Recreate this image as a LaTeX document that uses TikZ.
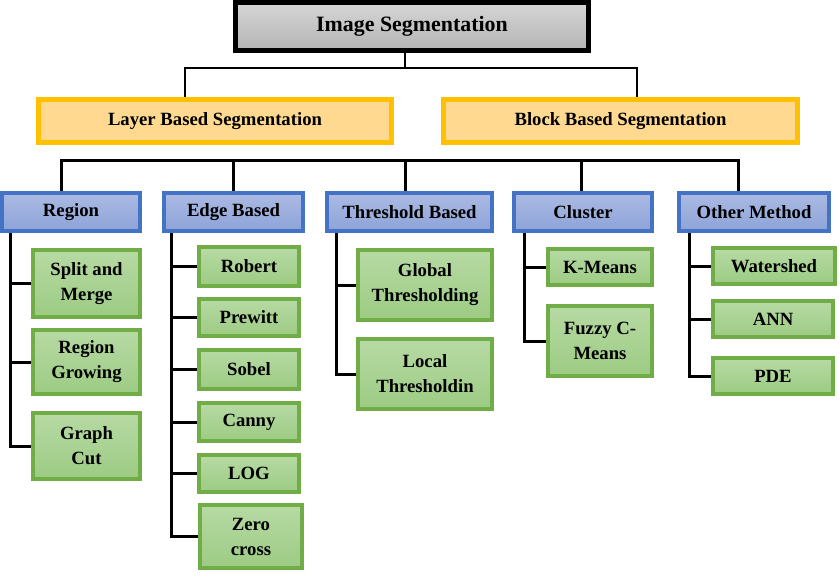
\documentclass[tikz,border=0pt]{standalone}
\usepackage{fontspec}
\setmainfont{Liberation Serif}
\usepackage{tikz}
\usetikzlibrary{positioning}
\pgfdeclarelayer{background}
\pgfsetlayers{background,main}

\definecolor{rootTop}{HTML}{D6D6D6}
\definecolor{rootBot}{HTML}{B4B4B4}
\definecolor{layerLine}{HTML}{FFC000}
\definecolor{layerFill}{HTML}{FFD98F}
\definecolor{blueLine}{HTML}{4472C4}
\definecolor{blueTop}{HTML}{ABBAE3}
\definecolor{blueBot}{HTML}{8DA3D8}
\definecolor{greenLine}{HTML}{70AD47}
\definecolor{greenTop}{HTML}{B7DAA4}
\definecolor{greenBot}{HTML}{9CCB83}

\begin{document}
\begin{tikzpicture}[x=1pt,y=-1pt,
						rootnode/.style={draw=black, line width=5pt, top color=rootTop, bottom color=rootBot, inner sep=0pt, font=\bfseries\fontsize{21.9}{26}\selectfont},
						groupnode/.style={draw=layerLine, line width=5pt, fill=layerFill, inner sep=0pt, minimum height=43, font=\bfseries\fontsize{18.7}{25}\selectfont},
						methodnode/.style={draw=blueLine, line width=4pt, top color=blueTop, bottom color=blueBot, inner sep=0pt, minimum height=38, font=\bfseries\fontsize{18.7}{25}\selectfont},
						leafnode/.style={draw=greenLine, line width=4pt, top color=greenTop, bottom color=greenBot, inner sep=0pt, align=center, font=\bfseries\fontsize{18.7}{25}\selectfont},
						link/.style={line width=2.2pt},
						branch/.style={line width=3pt},
						]
						\useasboundingbox (0,0) rectangle (840,586);
						%Nodes
						\node[rootnode, minimum width=353, minimum height=48]	(root)		at	(412,26.5)	{Image Segmentation};
						\node[groupnode, minimum width=353]	(layer)		at	(215,121)	{Layer Based Segmentation};
						\node[groupnode, minimum width=354]	(block)		at	(620.5,121)	{Block Based Segmentation};

						\node[methodnode, minimum width=138]	(region)	at	(71,212)	{Region};
						\node[methodnode, minimum width=139]	(edge)		at	(233.5,212)	{Edge Based};
						\node[methodnode, minimum width=165]	(thresh)	at	(409.5,212)	{Threshold Based};
						\node[methodnode, minimum width=138]	(cluster)	at	(583,212)	{Cluster};
						\node[methodnode, minimum width=150]	(other)		at	(754,212)	{Other Method};

						\node[leafnode, minimum width=107, minimum height=67]	(split)		at	(86.5,283.5)	{Split and\\Merge};
						\node[leafnode, minimum width=107, minimum height=64]	(growing)	at	(86.5,362)	{Region\\Growing};
						\node[leafnode, minimum width=107, minimum height=66]	(graph)		at	(86.5,446)	{Graph\\Cut};

						\node[leafnode, minimum width=100, minimum height=39]	(robert)	at	(249,266.5)	{Robert};
						\node[leafnode, minimum width=100, minimum height=37]	(prewitt)	at	(249,317.5)	{Prewitt};
						\node[leafnode, minimum width=100, minimum height=39]	(sobel)		at	(249,369.5)	{Sobel};
						\node[leafnode, minimum width=100, minimum height=38]	(canny)		at	(249,422)	{Canny};
						\node[leafnode, minimum width=100, minimum height=37]	(log)		at	(249,473.5)	{LOG};
						\node[leafnode, minimum width=102, minimum height=63]	(zero)		at	(251,536.5)	{Zero\\cross};

						\node[leafnode, minimum width=134, minimum height=70]	(global)	at	(425,285)	{Global\\Thresholding};
						\node[leafnode, minimum width=134, minimum height=70]	(local)		at	(425,374)	{Local\\Thresholdin};

						\node[leafnode, minimum width=104, minimum height=36]	(kmeans)	at	(600,267)	{K-Means};
						\node[leafnode, minimum width=104, minimum height=70]	(fuzzy)		at	(600,341)	{Fuzzy C-\\Means};

						\node[leafnode, minimum width=122, minimum height=36]	(watershed)	at	(774,266)	{Watershed};
						\node[leafnode, minimum width=120, minimum height=36]	(ann)		at	(773,319)	{ANN};
						\node[leafnode, minimum width=120, minimum height=36]	(pde)		at	(773,376)	{PDE};

						\coordinate (topbus) at (405,68);
						\coordinate (midbus) at (405,160);

						\begin{pgfonlayer}{background}
						%Lines
						\draw[link] ([xshift=-7]root.south) -- (topbus);
						\draw[link] ([xshift=-30]layer.north) |- (topbus) -| ([xshift=16.5]block.north);

						\draw[branch] ([xshift=-10]region.north) |- (midbus) -| ([xshift=-16]other.north);
						\draw[branch] (edge.north) -- (edge.north |- midbus);
						\draw[branch] ([xshift=-4.5]thresh.north) -- (midbus);
						\draw[branch] ([xshift=-2]cluster.north) |- (midbus);

						\foreach \leaf in {split,growing,graph}
							\draw[branch] ([xshift=10]region.south west) |- (\leaf.west);
						\foreach \leaf in {robert,prewitt,sobel,canny,log,zero}
							\draw[branch] ([xshift=9]edge.south west) |- (\leaf.west);
						\foreach \leaf in {global,local}
							\draw[branch] ([xshift=11]thresh.south west) |- (\leaf.west);
						\foreach \leaf in {kmeans,fuzzy}
							\draw[branch] ([xshift=12]cluster.south west) |- (\leaf.west);
						\foreach \leaf in {watershed,ann,pde}
							\draw[branch] ([xshift=12]other.south west) |- (\leaf.west);
						\end{pgfonlayer}
					\end{tikzpicture}
\end{document}
